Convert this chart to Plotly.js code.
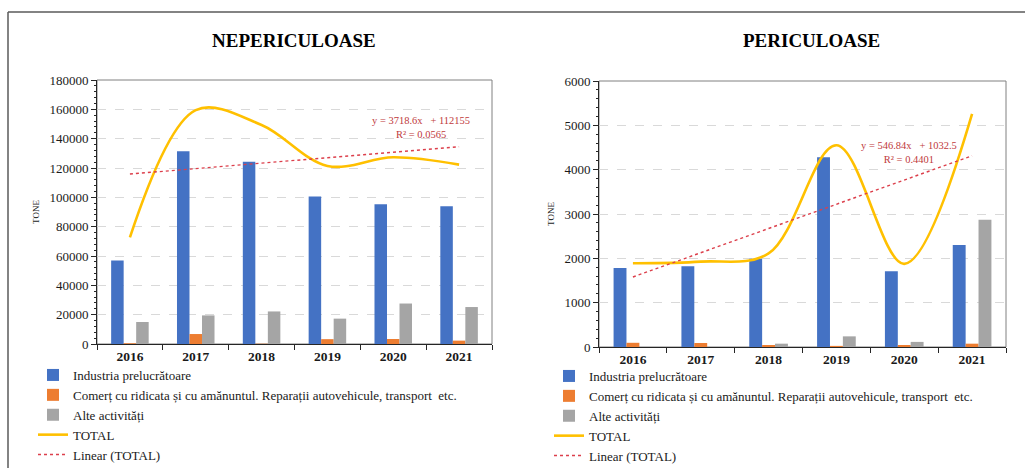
<!DOCTYPE html>
<html>
<head>
<meta charset="utf-8">
<script src="https://cdn.plot.ly/plotly-3.0.1.min.js"></script>
<style>
  html, body { margin: 0; padding: 0; background: #ffffff; }
  #chart { width: 1025px; height: 468px; }
</style>
</head>
<body>
<div id="chart"></div>
<script>
// ---------- DATA ----------
const years = ['2016', '2017', '2018', '2019', '2020', '2021'];

const seriesNames = [
  'Industria prelucrătoare',
  'Comerț cu ridicata și cu amănuntul. Reparații autovehicule, transport  etc.',
  'Alte activități',
  'TOTAL',
  'Linear (TOTAL)'
];

// NEPERICULOASE (tone)
const nepIndustria = [57000, 131500, 124200, 100600, 95200, 94000];
const nepComert    = [500, 6800, 200, 3300, 3400, 2300];
const nepAlte      = [15000, 19500, 22200, 17300, 27600, 25200];
const nepTotal     = [72700, 159500, 149300, 121400, 127300, 122300];
const nepTrendSlope = 3718.6, nepTrendIntercept = 112155, nepR2 = 0.0565;

// PERICULOASE (tone)
const perIndustria = [1780, 1820, 1990, 4280, 1710, 2300];
const perComert    = [95, 90, 45, 25, 45, 75];
const perAlte      = [0, 0, 75, 240, 115, 2870];
const perTotal     = [1890, 1925, 2110, 4550, 1875, 5260];
const perTrendSlope = 546.84, perTrendIntercept = 1032.5, perR2 = 0.4401;

// ---------- STYLE ----------
const W = 1025, H = 468;
const px = v => v / W;
const py = v => 1 - v / H;
const SERIF = 'Liberation Serif';
const colors = ['#4472C4', '#ED7D31', '#A5A5A5', '#FFC000', '#DC3F4B'];

function trendValues(slope, intercept) {
  return years.map((_, i) => slope * (i + 1) + intercept);
}

function makeTraces(ind, com, alt, tot, slope, intercept, xa, ya, leg) {
  const bars = [ind, com, alt].map((vals, k) => ({
    type: 'bar', x: years, y: vals, name: seriesNames[k],
    marker: { color: colors[k] }, xaxis: xa, yaxis: ya, legend: leg,
    hoverinfo: 'x+y+name'
  }));
  const total = {
    type: 'scatter', mode: 'lines', x: years, y: tot, name: seriesNames[3],
    line: { color: colors[3], width: 2.6, shape: 'spline', smoothing: 1.0 },
    xaxis: xa, yaxis: ya, legend: leg
  };
  const trend = {
    type: 'scatter', mode: 'lines', x: years, y: trendValues(slope, intercept),
    name: seriesNames[4],
    line: { color: colors[4], width: 1.4, dash: 'dot' },
    xaxis: xa, yaxis: ya, legend: leg
  };
  return [...bars, total, trend];
}

const data = [
  ...makeTraces(nepIndustria, nepComert, nepAlte, nepTotal, nepTrendSlope, nepTrendIntercept, 'x', 'y', 'legend'),
  ...makeTraces(perIndustria, perComert, perAlte, perTotal, perTrendSlope, perTrendIntercept, 'x2', 'y2', 'legend2')
];

function xAxis(domain, anchor) {
  return {
    domain: domain, anchor: anchor, type: 'category',
    showline: true, linecolor: '#262626', linewidth: 1,
    ticks: 'outside', ticklen: 5, tickcolor: '#262626', tickson: 'boundaries',
    showgrid: false, zeroline: false,
    tickfont: { family: SERIF, size: 13.5, color: '#1a1a1a', weight: 700 }
  };
}
function yAxis(domain, anchor, range, dtick, minor) {
  return {
    domain: domain, anchor: anchor, range: range, dtick: dtick, tick0: 0,
    tickformat: 'd', showline: true, linecolor: '#262626', linewidth: 1,
    ticks: 'outside', ticklen: 5, tickcolor: '#262626',
    minor: { dtick: minor, ticks: 'outside', ticklen: 2, tickcolor: '#262626', showgrid: false },
    showgrid: true, gridcolor: '#D9D9D9', griddash: 'dash', gridwidth: 1,
    zeroline: false,
    tickfont: { family: SERIF, size: 13, color: '#1a1a1a' },
    title: { text: 'TONE', font: { family: SERIF, size: 9, color: '#1a1a1a' }, standoff: 8 }
  };
}

const layout = {
  width: W, height: H,
  font: { family: SERIF, color: '#1a1a1a' },
  margin: { l: 0, r: 0, t: 0, b: 0, autoexpand: false },
  paper_bgcolor: '#ffffff', plot_bgcolor: '#ffffff',
  barmode: 'group',
  bargap: 0.43, bargroupgap: 0,
  showlegend: true,
  xaxis: xAxis([px(97), px(492)], 'y'),
  yaxis: yAxis([py(344), py(80)], 'x', [0, 180000], 20000, 4000),
  xaxis2: xAxis([px(599), px(1006)], 'y2'),
  yaxis2: yAxis([py(347), py(81)], 'x2', [0, 6000], 1000, 200),
  legend: {
    x: px(33), y: py(360), xanchor: 'left', yanchor: 'top',
    orientation: 'v', bgcolor: 'rgba(0,0,0,0)', tracegroupgap: 0, itemwidth: 30,
    font: { family: SERIF, size: 13, color: '#1a1a1a' }, traceorder: 'normal'
  },
  legend2: {
    x: px(549), y: py(361), xanchor: 'left', yanchor: 'top',
    orientation: 'v', bgcolor: 'rgba(0,0,0,0)', tracegroupgap: 0, itemwidth: 30,
    font: { family: SERIF, size: 13, color: '#1a1a1a' }, traceorder: 'normal'
  },
  annotations: [
    { text: '<b>NEPERICULOASE</b>', xref: 'paper', yref: 'paper', x: px(294), y: py(40),
      xanchor: 'center', yanchor: 'middle', showarrow: false,
      font: { family: SERIF, size: 19, color: '#000000' } },
    { text: '<b>PERICULOASE</b>', xref: 'paper', yref: 'paper', x: px(811), y: py(40),
      xanchor: 'center', yanchor: 'middle', showarrow: false,
      font: { family: SERIF, size: 19, color: '#000000' } },
    { text: 'y = ' + nepTrendSlope + 'x   + ' + nepTrendIntercept + '<br>R² = ' + nepR2,
      xref: 'paper', yref: 'paper', x: px(421), y: py(127.5),
      xanchor: 'center', yanchor: 'middle', showarrow: false, align: 'center',
      font: { family: SERIF, size: 10.5, color: '#C0393B' } },
    { text: 'y = ' + perTrendSlope + 'x   + ' + perTrendIntercept + '<br>R² = ' + perR2,
      xref: 'paper', yref: 'paper', x: px(909), y: py(153),
      xanchor: 'center', yanchor: 'middle', showarrow: false, align: 'center',
      font: { family: SERIF, size: 10.5, color: '#C0393B' } }
  ],
  shapes: [
    { type: 'rect', xref: 'x domain', yref: 'y domain', x0: 0, x1: 1, y0: 0, y1: 1,
      line: { color: '#808080', width: 1 }, layer: 'below' },
    { type: 'rect', xref: 'x2 domain', yref: 'y2 domain', x0: 0, x1: 1, y0: 0, y1: 1,
      line: { color: '#808080', width: 1 }, layer: 'below' },
    { type: 'line', xref: 'paper', yref: 'paper', x0: px(8), x1: 1, y0: py(12), y1: py(12),
      line: { color: '#5a5a5a', width: 1.5 } },
    { type: 'line', xref: 'paper', yref: 'paper', x0: px(8), x1: px(8), y0: py(12), y1: 0,
      line: { color: '#5a5a5a', width: 1.5 } }
  ]
};

Plotly.newPlot('chart', data, layout, { displayModeBar: false, staticPlot: true });
</script>
</body>
</html>
